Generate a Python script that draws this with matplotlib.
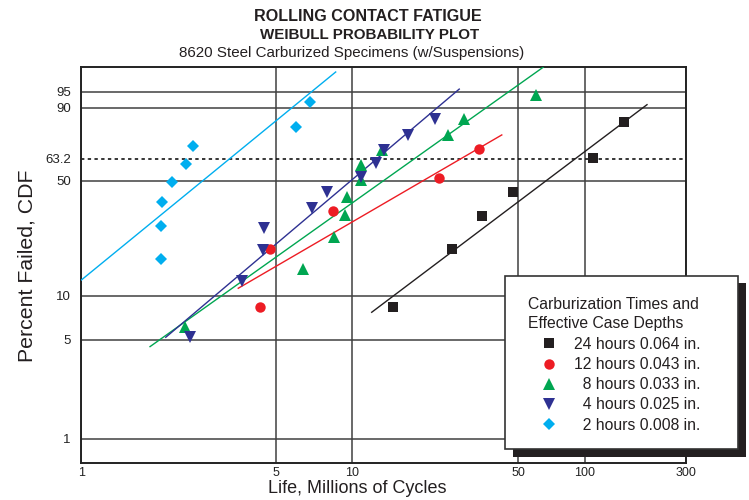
import numpy as np
import matplotlib
matplotlib.use('Agg')
import matplotlib.pyplot as plt
from matplotlib.patches import Rectangle

plt.rcParams['font.family'] = ['Liberation Sans', 'DejaVu Sans']

# ---------------- data ----------------
series_labels = ['24 hours 0.064 in.', '12 hours 0.043 in.', '  8 hours 0.033 in.',
                 '  4 hours 0.025 in.', '  2 hours 0.008 in.']

life_24h = [14.84, 26.37, 35.0, 47.6, 109.1, 152.8]
cdf_24h = [8.35, 20.22, 32.21, 44.07, 63.76, 83.84]
life_12h = [4.38, 4.77, 8.41, 23.22, 34.32]
cdf_12h = [8.35, 20.22, 34.29, 51.57, 68.80]
life_8h = [2.356, 6.37, 8.49, 9.33, 9.50, 10.85, 10.85, 13.34, 25.22, 29.62, 59.9]
cdf_8h = [6.15, 15.02, 24.25, 32.86, 41.45, 50.54, 59.36, 68.39, 76.90, 85.12, 94.23]
life_4h = [2.455, 3.77, 4.50, 4.54, 6.92, 7.97, 10.88, 12.58, 13.60, 17.21, 22.30]
cdf_4h = [5.19, 12.62, 20.01, 27.29, 35.76, 43.91, 52.09, 60.38, 68.39, 76.90, 85.12]
life_2h = [1.94, 1.94, 1.95, 2.12, 2.38, 2.51, 5.98, 6.81]
cdf_2h = [17.4, 28.2, 38.8, 49.4, 60.0, 70.8, 81.5, 92.1]

# Weibull fit lines (end points)
fit_life_24h = [12.07, 196.3]
fit_cdf_24h = [7.72, 91.1]
fit_life_12h = [3.66, 42.6]
fit_cdf_12h = [11.23, 77.07]
fit_life_8h = [1.765, 64.8]
fit_cdf_8h = [4.47, 98.86]
fit_life_4h = [2.01, 28.2]
fit_cdf_4h = [5.19, 95.6]
fit_life_2h = [1.0, 8.60]
fit_cdf_2h = [12.74, 98.4]

x_ticks = [1, 5, 10, 50, 100, 300]
x_tick_labels = ['1', '5', '10', '50', '100', '300']
y_ticks = [1, 5, 10, 50, 63.2, 90, 95]
y_tick_labels = ['1', '5', '10', '50', '63.2', '90', '95']

# ---------------- axis scales ----------------
LOG_KNOTS = np.log10(np.array(x_ticks, float))
POS_KNOTS = np.array([0.0, 194.7, 271.0, 437.0, 503.7, 604.7])


def _interp_ext(v, xp, fp):
    v = np.asarray(v, float)
    out = np.interp(v, xp, fp)
    s0 = (fp[1] - fp[0]) / (xp[1] - xp[0])
    s1 = (fp[-1] - fp[-2]) / (xp[-1] - xp[-2])
    out = np.where(v < xp[0], fp[0] + (v - xp[0]) * s0, out)
    out = np.where(v > xp[-1], fp[-1] + (v - xp[-1]) * s1, out)
    return out


def x_fwd(x):
    x = np.clip(np.asarray(x, float), 1e-9, None)
    return _interp_ext(np.log10(x), LOG_KNOTS, POS_KNOTS)


def x_inv(p):
    return 10.0 ** _interp_ext(p, POS_KNOTS, LOG_KNOTS)


def y_fwd(f):
    f = np.clip(np.asarray(f, float), 1e-9, 100 - 1e-9)
    return np.log(-np.log(1.0 - f / 100.0))


def y_inv(z):
    return 100.0 * (1.0 - np.exp(-np.exp(np.asarray(z, float))))


# ---------------- figure ----------------
W, H = 749, 500
fig = plt.figure(figsize=(W / 100, H / 100), dpi=100)
ax = fig.add_axes([81.3 / W, 37.3 / H, 604.7 / W, 396.0 / H])
ax.set_xscale('function', functions=(x_fwd, x_inv))
ax.set_yscale('function', functions=(y_fwd, y_inv))
ax.set_xlim(1, 300)
ax.set_ylim(0.679, 98.9)

ax.set_xticks(x_ticks)
ax.set_xticklabels(x_tick_labels, fontsize=9)
ax.set_yticks(y_ticks)
ax.set_yticklabels(y_tick_labels, fontsize=9.5)
ax.xaxis.set_minor_locator(matplotlib.ticker.NullLocator())
ax.yaxis.set_minor_locator(matplotlib.ticker.NullLocator())
ax.tick_params(axis='both', length=0, colors='#222222')
ax.tick_params(axis='x', pad=3.2)
ax.tick_params(axis='y', pad=7.6)
ax.grid(True, color='#404040', lw=1.1)
ax.set_axisbelow(True)
ax.yaxis.get_major_ticks()[4].gridline.set_linestyle((0, (2.2, 2.2)))
ax.yaxis.get_major_ticks()[4].gridline.set_color('black')
for sp in ax.spines.values():
    sp.set_color('#222222')
    sp.set_linewidth(1.4)

colors = ['#231f20', '#ed1c24', '#00a651', '#2e3192', '#00aeef']
markers = ['s', 'o', '^', 'v', 'D']
msizes = [7, 7.5, 8.4, 8.4, 6.2]
lifes = [life_24h, life_12h, life_8h, life_4h, life_2h]
cdfs = [cdf_24h, cdf_12h, cdf_8h, cdf_4h, cdf_2h]
fit_lifes = [fit_life_24h, fit_life_12h, fit_life_8h, fit_life_4h, fit_life_2h]
fit_cdfs = [fit_cdf_24h, fit_cdf_12h, fit_cdf_8h, fit_cdf_4h, fit_cdf_2h]

handles = []
for i in range(5):
    ax.plot(fit_lifes[i], fit_cdfs[i], color=colors[i], lw=1.0, zorder=3)
for i in range(5):
    h, = ax.plot(lifes[i], cdfs[i], ls='none', marker=markers[i], ms=msizes[i],
                 color=colors[i], mew=0, zorder=4, label=series_labels[i])
    handles.append(h)

# titles
fig.text(367.5 / W, 1 - 20.7 / H, 'ROLLING CONTACT FATIGUE', ha='center', va='baseline',
         fontsize=11.6, fontweight='bold', color='#231f20')
fig.text(370 / W, 1 - 39.3 / H, 'WEIBULL PROBABILITY PLOT', ha='center', va='baseline',
         fontsize=10.9, fontweight='bold', color='#231f20')
fig.text(351.5 / W, 1 - 57.3 / H, '8620 Steel Carburized Specimens (w/Suspensions)',
         ha='center', va='baseline', fontsize=10.9, color='#231f20')

# axis labels
fig.text(357.3 / W, 1 - 493.3 / H, 'Life, Millions of Cycles', ha='center', va='baseline',
         fontsize=13, color='#231f20')
fig.text(32.7 / W, 1 - 266 / H, 'Percent Failed, CDF', rotation=90, rotation_mode='anchor',
         ha='center', va='baseline', fontsize=15.3, color='#231f20')

# legend box with hard shadow
fig.patches.append(Rectangle((512.5 / W, 1 - 456.5 / H), 233.3 / W, 173.6 / H,
                             transform=fig.transFigure, facecolor='#231f20',
                             edgecolor='none', zorder=3))
fig.patches.append(Rectangle((505 / W, 1 - 449.3 / H), 233.3 / W, 173.6 / H,
                             transform=fig.transFigure, facecolor='white',
                             edgecolor='#333333', lw=1.2, zorder=3.5))
leg = fig.legend(handles=handles, labels=series_labels, loc='upper left',
                 bbox_to_anchor=(527.5 / W, 1 - 297 / H), bbox_transform=fig.transFigure,
                 frameon=False, borderpad=0, borderaxespad=0, numpoints=1,
                 handlelength=2.76, handletextpad=0.2, labelspacing=0.33,
                 fontsize=11.3, title='Carburization Times and\nEffective Case Depths',
                 title_fontsize=11.3, alignment='left')
leg.set_zorder(5)
leg.get_title().set_linespacing(1.3)
leg._legend_box.sep = 4.5
for t in leg.get_texts():
    t.set_color('#231f20')
leg.get_title().set_color('#231f20')

fig.savefig('out.png', dpi=100)
